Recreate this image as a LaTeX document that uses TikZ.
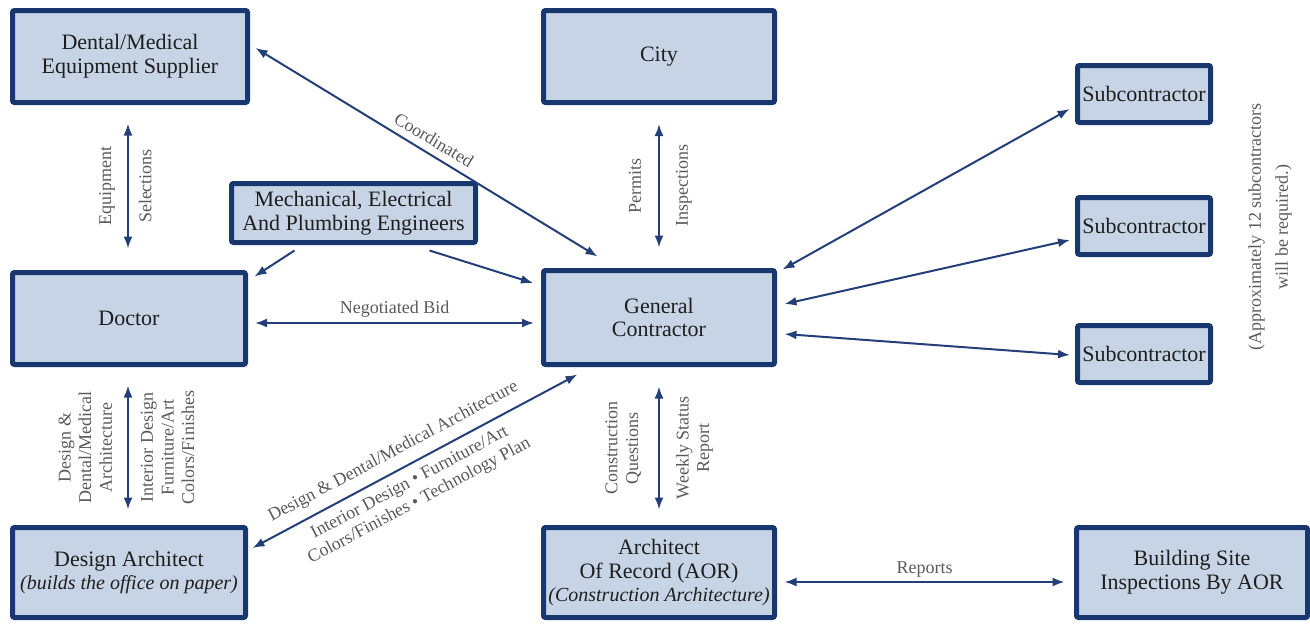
\documentclass[tikz,border=0pt]{standalone}
\usepackage{fontspec}
\setmainfont{Liberation Serif}
\usetikzlibrary{arrows.meta,calc}
\definecolor{boxfill}{HTML}{C6D4E6}
\definecolor{boxline}{HTML}{17376E}
\definecolor{arrowcol}{HTML}{243F78}
\definecolor{labelgray}{HTML}{5A5A5A}
\definecolor{boxtext}{HTML}{1E1E1E}
\newcommand{\italline}{\fontsize{10}{11.5}\selectfont\itshape}
\begin{document}
\begin{tikzpicture}[x=0.5pt,y=-0.5pt,
  box/.style={draw=boxline, fill=boxfill, line width=2.5pt, rounded corners=1pt,
    inner sep=0pt, align=center, text=boxtext, font=\fontsize{11}{11.8}\selectfont},
  conn/.style={draw=arrowcol, line width=1pt, {Latex[length=6pt,width=4.5pt]}-{Latex[length=6pt,width=4.5pt]}},
  oneway/.style={draw=arrowcol, line width=1pt, -{Latex[length=6pt,width=4.5pt]}},
  lbl/.style={text=labelgray, font=\fontsize{9}{10.3}\selectfont, align=center},
  vlbl/.style={lbl, rotate=90},
]
\useasboundingbox (0,0) rectangle (1310,627);

% ---- boxes ----
\node[box, minimum width=117.5pt, minimum height=46pt] (sup) at (130,56.5) {Dental/Medical\\Equipment Supplier};
\node[box, minimum width=115.5pt, minimum height=46pt] (city) at (659,56.5) {City};
\node[box, minimum width=66.5pt, minimum height=28.5pt] (subA) at (1144,94) {Subcontractor};
\node[box, minimum width=66.5pt, minimum height=28.5pt] (subB) at (1144,226) {Subcontractor};
\node[box, minimum width=66.5pt, minimum height=28.5pt] (subC) at (1144,354) {Subcontractor};
\node[box, minimum width=122pt, minimum height=29.5pt] (mep) at (353.5,213) {Mechanical, Electrical\\And Plumbing Engineers};
\node[box, minimum width=116.5pt, minimum height=46pt] (doc) at (129,318.5) {Doctor};
\node[box, minimum width=115.5pt, minimum height=47pt] (gc) at (659,317.5) {General\\Contractor};
\node[box, minimum width=116.5pt, minimum height=45pt] (da) at (129,572.5) {Design Architect\\{\italline (builds the office on paper)}};
\node[box, minimum width=115.5pt, minimum height=45pt] (aor) at (659,572.5) {Architect\\Of Record (AOR)\\{\italline (Construction Architecture)}};
\node[box, minimum width=115.5pt, minimum height=45pt] (site) at (1192,572.5) {Building Site\\Inspections By AOR};

% ---- note beside the subcontractors ----
\node[vlbl, font=\fontsize{9}{13.5}\selectfont] (note) at (1270,227) {(Approximately 12 subcontractors\\will be required.)};

% ---- connectors ----
\draw[conn] ($(sup.south)+(-2,18.5)$) --
  node[vlbl, anchor=south, inner sep=6pt] {Equipment}
  node[vlbl, anchor=north, inner sep=5pt] {Selections}
  ($(doc.north)+(-1,-21.5)$);

\draw[conn] ($(sup.east)+(5.5,-8.5)$) --
  node[lbl, sloped, above, inner sep=3.5pt] {Coordinated}
  ($(gc.north west)+(56.5,-11.5)$);

\draw[conn] ($(city.south)+(0,19)$) --
  node[vlbl, anchor=south, inner sep=8.5pt] {Permits}
  node[vlbl, anchor=north, inner sep=8pt] {Inspections}
  ($(gc.north)+(0,-20.5)$);

\draw[oneway] ($(mep.south west)+(65.5,5.5)$) -- ($(doc.north east)+(6.5,6.5)$);
\draw[oneway] ($(mep.south east)+(-48.5,5.5)$) -- ($(gc.north west)+(-8,15)$);

\draw[conn] ($(doc.east)+(7,4.5)$) --
  node[lbl, above, inner sep=2.5pt] {Negotiated Bid}
  ($(gc.west)+(-7,5.5)$);

\draw[conn] ($(doc.south)+(-1,18.5)$) --
  node[vlbl, anchor=south, inner sep=7.5pt] {Design \&\\Dental/Medical\\Architecture}
  node[vlbl, anchor=north, inner sep=6pt] {Interior Design\\Furniture/Art\\Colors/Finishes}
  ($(da.north)+(-1,-15.5)$);

\draw[conn] ($(da.east)+(4.5,-24.5)$) --
  node[lbl, sloped, above, pos=0.46, inner sep=4.5pt] {Design \& Dental/Medical Architecture}
  node[lbl, sloped, below, pos=0.46, inner sep=4pt] {Interior Design • Furniture/Art\\Colors/Finishes • Technology Plan}
  ($(gc.south west)+(36.5,7.5)$);

\draw[conn] ($(gc.south)+(0,19.5)$) --
  node[vlbl, anchor=south, inner sep=8.5pt] {Construction\\Questions}
  node[vlbl, anchor=north, inner sep=8pt] {Weekly Status\\Report}
  ($(aor.north)+(0,-15.5)$);

\draw[conn] ($(aor.east)+(7.5,9.5)$) --
  node[lbl, above, inner sep=2pt] {Reports}
  ($(site.west)+(-9.5,9.5)$);

\draw[conn] ($(gc.north east)+(5.5,1.5)$) -- ($(subA.west)+(-5.5,15)$);
\draw[conn] ($(gc.east)+(7.5,-13.5)$) -- ($(subB.west)+(-5,14)$);
\draw[conn] ($(gc.east)+(7.5,16.5)$) -- ($(subC.west)+(-5,1)$);
\end{tikzpicture}
\end{document}
